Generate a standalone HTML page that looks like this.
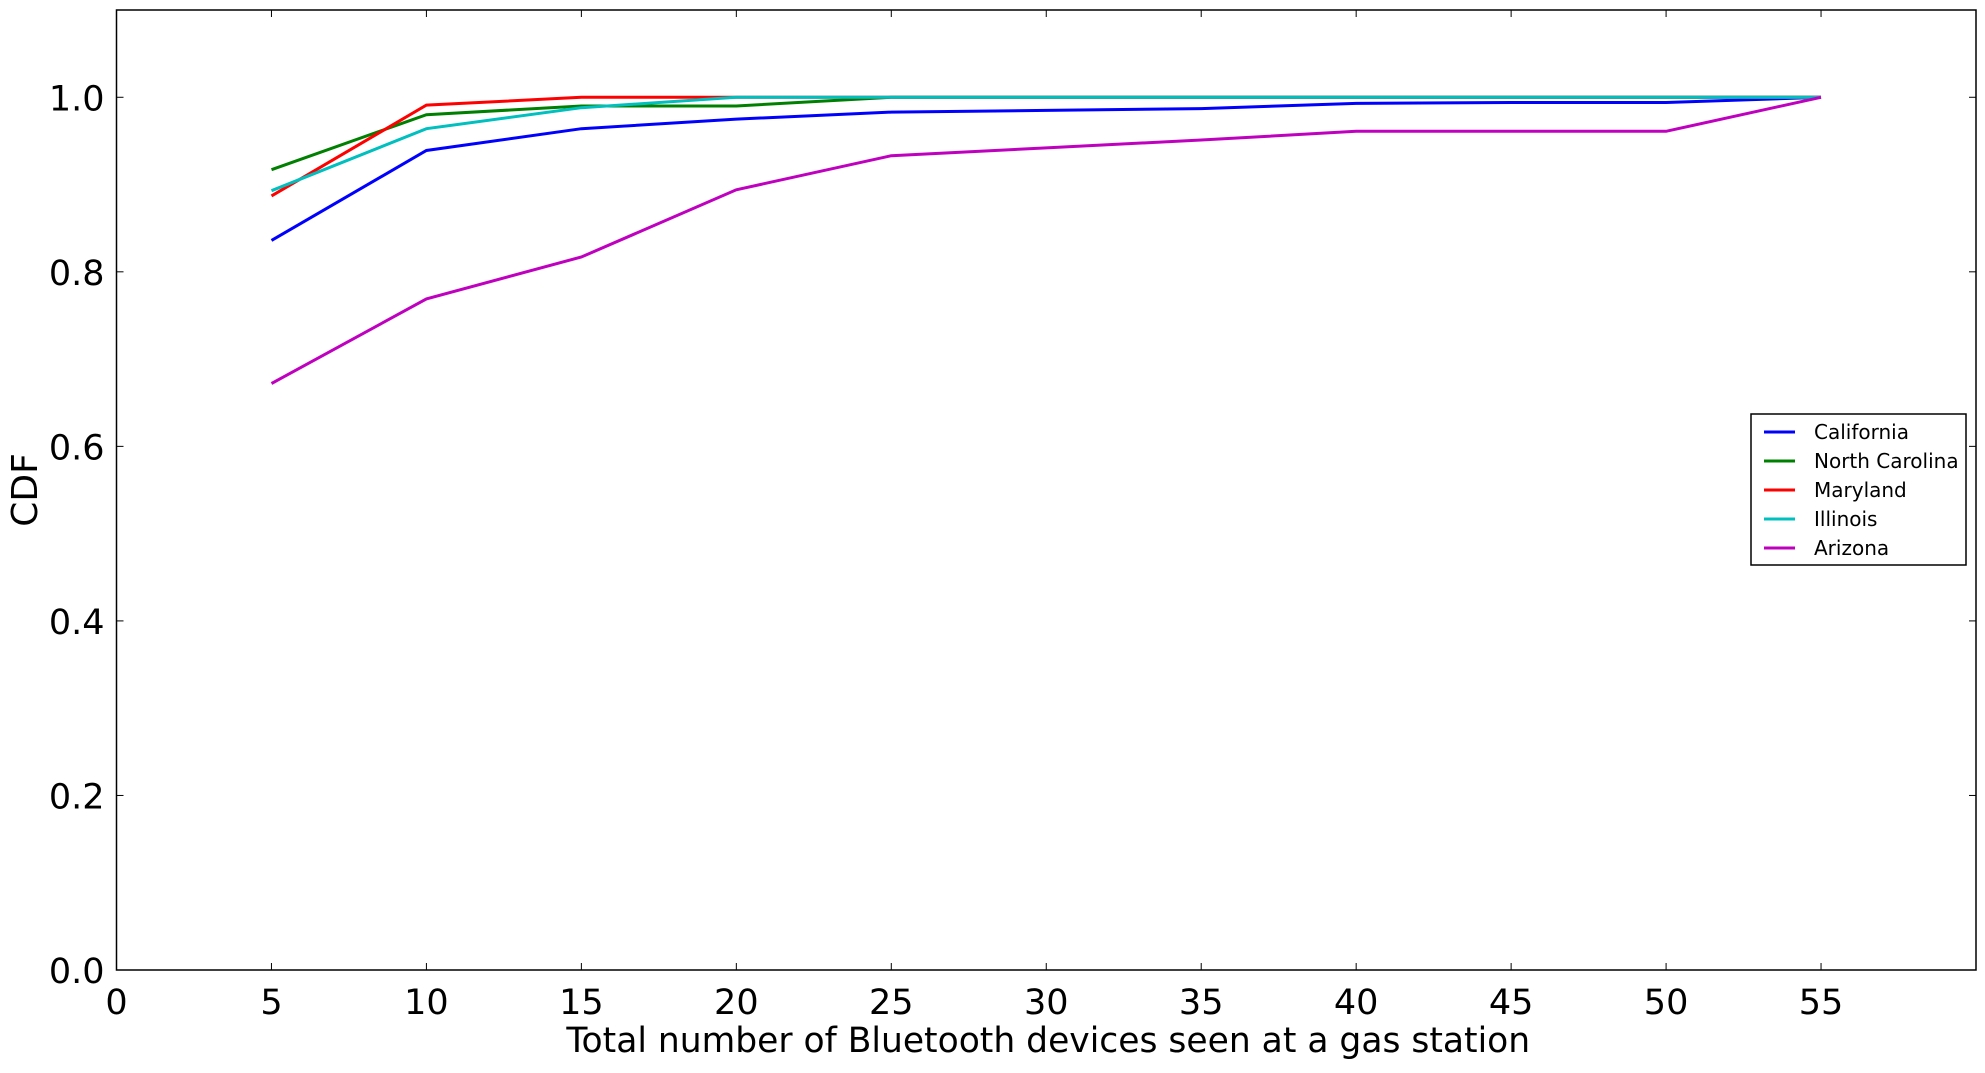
<!DOCTYPE html>
<html><head><meta charset="utf-8"><style>
body{margin:0;background:#fff;}
svg text{font-family:"DejaVu Sans","Liberation Sans",sans-serif;fill:#000;}
</style></head><body>
<svg id="chart" width="1985" height="1068" xmlns="http://www.w3.org/2000/svg"></svg>
<script>
const xs = [5,10,15,20,25,30,35,40,45,50,55];
const seriesNames = ["California","North Carolina","Maryland","Illinois","Arizona"];
const seriesColors = ["#0000ff","#008000","#ff0000","#00bfbf","#bf00bf"];
const california = [0.836,0.939,0.964,0.975,0.983,0.985,0.987,0.993,0.994,0.994,1.0];
const northCarolina = [0.917,0.980,0.990,0.990,1,1,1,1,1,1,1];
const maryland = [0.887,0.991,1,1,1,1,1,1,1,1,1];
const illinois = [0.893,0.964,0.988,1,1,1,1,1,1,1,1];
const arizona = [0.672,0.769,0.817,0.894,0.933,0.942,0.951,0.961,0.961,0.961,1.0];
const xTicks = [0,5,10,15,20,25,30,35,40,45,50,55];
const yTicks = [0.0,0.2,0.4,0.6,0.8,1.0];

const NS="http://www.w3.org/2000/svg";
const svg=document.getElementById('chart');
const L=116.5,R=1976,T=10,B=970;
const xMax=60,yMax=1.1;
const xS=v=>L+(R-L)*v/xMax;
const yS=v=>B-(B-T)*v/yMax;
function mk(t,a){const e=document.createElementNS(NS,t);for(const k in a)e.setAttribute(k,a[k]);svg.appendChild(e);return e;}

const data=[california,northCarolina,maryland,illinois,arizona];
data.forEach((vals,i)=>{
  const d=vals.map((v,j)=>(j?'L':'M')+xS(xs[j]).toFixed(1)+','+yS(v).toFixed(1)).join(' ');
  const p=mk('path',{d:d,fill:'none',stroke:seriesColors[i],'stroke-width':3});
  
  
});

const frame=mk('rect',{x:L,y:T,width:R-L,height:B-T,fill:'none',stroke:'#000','stroke-width':1.5});



xTicks.forEach(v=>{
  const x=xS(v);
  mk('line',{x1:x,y1:B,x2:x,y2:B-7,stroke:'#000','stroke-width':1});
  mk('line',{x1:x,y1:T,x2:x,y2:T+7,stroke:'#000','stroke-width':1});
  const t=mk('text',{x:x,y:B+44,'font-size':35,'text-anchor':'middle'});
  t.textContent=String(v);
  
  
});
yTicks.forEach(v=>{
  const y=yS(v);
  mk('line',{x1:L,y1:y,x2:L+7,y2:y,stroke:'#000','stroke-width':1});
  mk('line',{x1:R,y1:y,x2:R-7,y2:y,stroke:'#000','stroke-width':1});
  const t=mk('text',{x:L-12,y:y+13,'font-size':35,'text-anchor':'end'});
  t.textContent=v.toFixed(1);
  
  
});

const xl=mk('text',{x:(L+R)/2+2,y:1052,'font-size':34.5,'text-anchor':'middle'});
xl.textContent='Total number of Bluetooth devices seen at a gas station';


const yl=mk('text',{x:0,y:0,'font-size':36,'text-anchor':'middle',transform:'translate(37,'+((T+B)/2)+') rotate(-90)'});
yl.textContent='CDF';



const lg=mk('rect',{x:1751,y:414,width:215,height:151,fill:'#fff',stroke:'#000','stroke-width':1.5});


seriesNames.forEach((n,i)=>{
  const y=432+i*29;
  const l=mk('line',{x1:1764,y1:y,x2:1795,y2:y,stroke:seriesColors[i],'stroke-width':3});
  
  
  const t=mk('text',{x:1814,y:y+7,'font-size':20});
  t.textContent=n;
  
  
});
</script>
</body></html>
